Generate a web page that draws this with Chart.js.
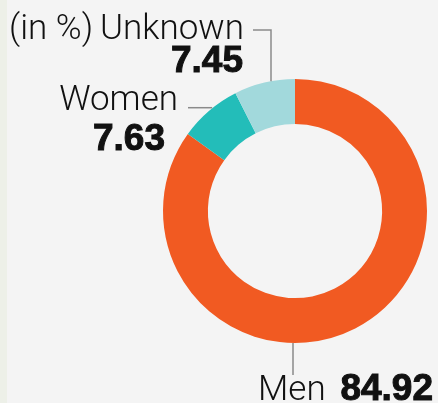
<!DOCTYPE html>
<html>
<head>
<meta charset="utf-8">
<script src="https://cdn.jsdelivr.net/npm/chart.js@4.4.0/dist/chart.umd.min.js"></script>
<style>
  html, body { margin: 0; padding: 0; }
  body {
    width: 438px; height: 403px; overflow: hidden;
    background: linear-gradient(to right, #edf0e8 0 7px, #f4f4f4 7px);
  }
  #wrap { position: relative; width: 438px; height: 403px; }
</style>
</head>
<body>
<div id="wrap"><canvas id="donut" width="438" height="403"></canvas></div>
<script>
// Datos del gráfico (en %)
const categorias = ["Men", "Women", "Unknown"];
const valores = [84.92, 7.63, 7.45];
const colores = ["#f15a22", "#23bdb9", "#a2d9dc"];
const unidad = "(in %)";

const fuenteEtiqueta = '300 35px Roboto, "Liberation Sans", sans-serif';
const fuenteNumero = 'bold 37px "Liberation Sans", Arial, sans-serif';
const colorLinea = "#8a8a8a";

// Número en negrita más gruesa (relleno + trazo fino)
function numero(ctx, texto, x, y) {
  ctx.font = fuenteNumero;
  ctx.fillText(texto, x, y);
  ctx.lineWidth = 1;
  ctx.strokeStyle = "#111";
  ctx.strokeText(texto, x, y);
  ctx.strokeStyle = colorLinea;
  ctx.lineWidth = 1.5;
}

// Plugin para dibujar etiquetas y líneas guía
const etiquetas = {
  id: "etiquetas",
  afterDraw(chart) {
    const ctx = chart.ctx;
    const arcos = chart.getDatasetMeta(0).data;
    const cx = arcos[0].x;
    const cy = arcos[0].y;
    const r = arcos[0].outerRadius;

    // punto en el borde exterior para una x dada
    const bordeY = (x, arriba) => {
      const dy = Math.sqrt(r * r - (x - cx) * (x - cx));
      return arriba ? cy - dy : cy + dy;
    };

    ctx.save();
    ctx.strokeStyle = colorLinea;
    ctx.lineWidth = 1.5;
    ctx.fillStyle = "#111";
    ctx.textBaseline = "alphabetic";

    // Unknown (arriba)
    const xU = cx - 24;
    ctx.beginPath();
    ctx.moveTo(cx - 42, 30);
    ctx.lineTo(xU, 30);
    ctx.lineTo(xU, bordeY(xU, true));
    ctx.stroke();

    ctx.font = fuenteEtiqueta;
    ctx.textAlign = "left";
    ctx.fillText(unidad, 9, 39);
    ctx.textAlign = "right";
    ctx.fillText(categorias[2], cx - 51, 39);
    numero(ctx, valores[2].toFixed(2), cx - 52, 72);

    // Women (izquierda)
    const wArc = arcos[1];
    const medio = (wArc.startAngle + wArc.endAngle) / 2;
    const wx = cx + r * Math.cos(medio);
    const wy = cy + r * Math.sin(medio);
    ctx.beginPath();
    ctx.moveTo(cx - 107, wy - 3);
    ctx.lineTo(wx + 3, wy - 3);
    ctx.stroke();

    ctx.font = fuenteEtiqueta;
    ctx.fillText(categorias[1], cx - 117, 110);
    numero(ctx, valores[1].toFixed(2), cx - 130, 150);

    // Men (abajo)
    const xM = cx - 2;
    ctx.beginPath();
    ctx.moveTo(xM, bordeY(xM, false));
    ctx.lineTo(xM, 375);
    ctx.stroke();

    ctx.textAlign = "left";
    ctx.font = fuenteEtiqueta;
    ctx.fillText(categorias[0], cx - 37, 400);
    ctx.textAlign = "right";
    numero(ctx, valores[0].toFixed(2), cx + 138, 400);

    ctx.restore();
  },
};

const ctx = document.getElementById("donut").getContext("2d");
const chart = new Chart(ctx, {
  type: "doughnut",
  data: {
    labels: categorias,
    datasets: [
      {
        data: valores,
        backgroundColor: colores,
        borderWidth: 0,
      },
    ],
  },
  options: {
    responsive: false,
    animation: false,
    cutout: "66%",
    layout: {
      padding: { top: 79, bottom: 60, left: 163, right: 11 },
    },
    plugins: {
      legend: { display: false },
      tooltip: { enabled: false },
    },
  },
  plugins: [etiquetas],
});
</script>
</body>
</html>
